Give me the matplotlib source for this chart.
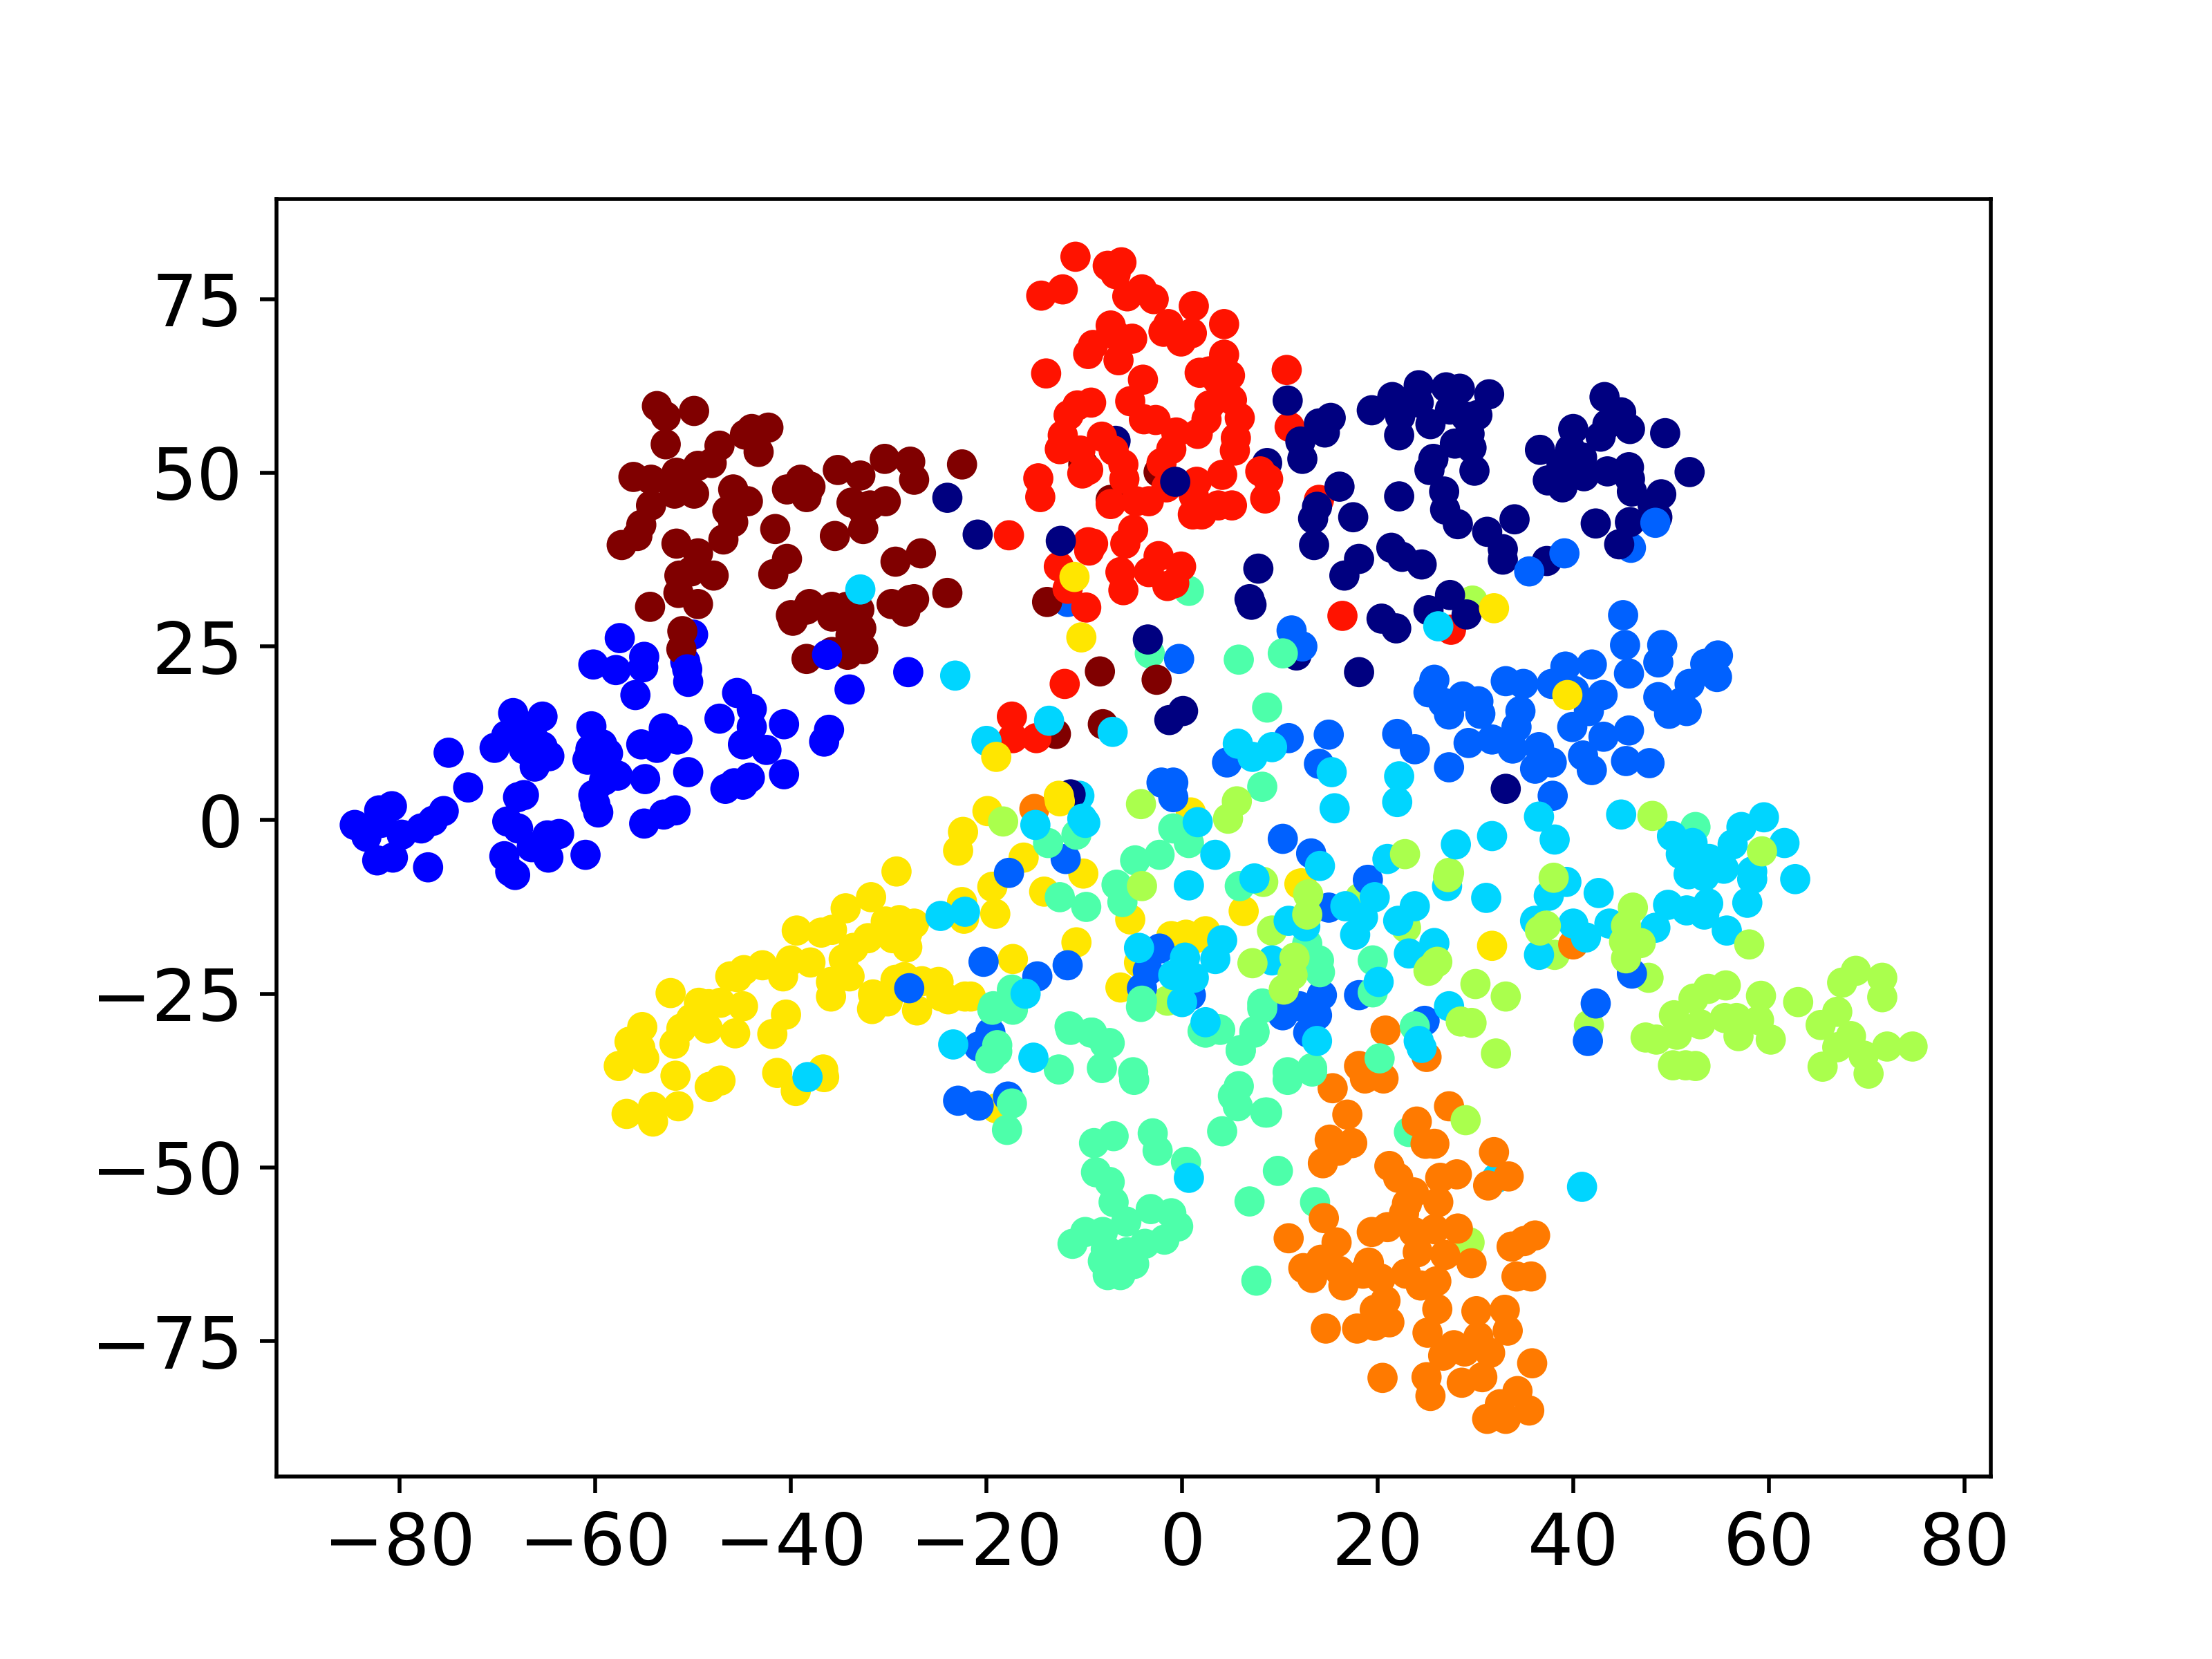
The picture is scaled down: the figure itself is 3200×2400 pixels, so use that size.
#!/usr/bin/env python3
import numpy as np
import matplotlib
matplotlib.use("Agg")
import matplotlib.pyplot as plt

# t-SNE embedding, one array of (x, y) per digit class
class_0 = [
    (-24.0, 46.4), (-20.9, 41.1), (-12.4, 40.2), (-6.8, 54.6), (8.7, 51.4), (-0.7, 48.7), (10.8, 60.4),
    (15.2, 57.9), (14.0, 57.1), (14.6, 55.8), (12.1, 54.5), (12.3, 52.0), (19.4, 59.0), (21.5, 60.9),
    (24.2, 62.6), (24.2, 60.1), (22.3, 58.1), (22.2, 55.4), (25.4, 57.0), (27.0, 62.3), (28.4, 62.1),
    (31.4, 61.3), (27.4, 59.1), (30.2, 58.3), (29.0, 58.1), (29.4, 55.6), (27.9, 54.2), (29.6, 53.6),
    (25.7, 52.0), (25.3, 50.4), (29.9, 50.3), (16.1, 48.0), (13.8, 45.1), (13.4, 43.4), (13.5, 39.6),
    (17.5, 43.6), (22.2, 46.6), (26.8, 47.3), (26.9, 44.7), (28.2, 42.6), (34.0, 43.3), (31.2, 41.5),
    (32.8, 39.0), (32.8, 37.5), (37.3, 37.3), (21.4, 39.2), (22.5, 37.9), (24.5, 36.8), (18.1, 37.6),
    (16.6, 35.2), (7.8, 36.2), (6.9, 31.8), (7.1, 31.0), (20.4, 29.0), (21.9, 27.6), (25.2, 30.2),
    (27.4, 32.4), (29.1, 29.6), (43.2, 60.9), (44.9, 58.7), (43.5, 57.0), (45.8, 56.3), (42.8, 55.2),
    (40.0, 56.3), (36.6, 53.3), (39.7, 53.4), (40.9, 52.2), (38.8, 51.4), (41.1, 49.5), (37.4, 48.9),
    (38.9, 47.9), (43.5, 50.2), (45.7, 50.8), (45.8, 49.1), (46.0, 47.3), (49.4, 55.7), (51.9, 50.1),
    (49.0, 46.9), (48.1, 45.5), (48.6, 43.6), (42.3, 42.7), (45.8, 42.9), (44.7, 39.7), (-3.5, 26.0),
    (11.7, 23.7), (18.1, 21.3), (0.1, 15.7), (-1.3, 14.4), (33.1, 4.5), (-11.4, 3.7),
]
class_1 = [
    (-84.6, -0.7), (-83.4, -2.4), (-82.3, -5.8), (-80.7, -5.4), (-77.1, -6.8), (-82.1, 1.4), (-80.8, 2.0),
    (-81.9, -0.4), (-79.8, -2.1), (-77.8, -1.2), (-76.6, -0.1), (-75.5, 1.3), (-73.0, 4.7), (-75.0, 9.7),
    (-70.3, 10.4), (-69.1, 12.2), (-68.4, 15.4), (-65.4, 14.9), (-66.5, 12.6), (-67.3, 10.2), (-66.0, 9.6),
    (-64.7, 9.2), (-66.2, 7.7), (-65.4, 10.6), (-60.4, 13.5), (-59.3, 10.9), (-60.5, 10.2), (-60.8, 8.7),
    (-58.7, 9.6), (-57.7, 6.4), (-59.1, 5.7), (-54.9, 5.9), (-55.3, 10.9), (-53.7, 10.4), (-53.0, 13.2),
    (-51.6, 11.6), (-50.5, 6.9), (-47.3, 14.6), (-45.5, 18.3), (-44.0, 16.0), (-44.0, 13.4), (-44.9, 10.9),
    (-42.5, 10.1), (-40.7, 13.8), (-36.1, 13.0), (-36.6, 11.3), (-40.7, 6.6), (-44.2, 6.1), (-45.8, 5.3),
    (-46.7, 4.5), (-44.9, 5.1), (-60.2, 3.6), (-59.7, 1.1), (-60.0, 2.3), (-55.0, -0.5), (-53.0, 0.8),
    (-51.8, 1.4), (-67.3, 3.6), (-67.9, 3.3), (-69.0, -0.2), (-67.9, -1.2), (-63.7, -2.0), (-64.9, -2.2),
    (-66.5, -3.9), (-64.8, -5.4), (-61.0, -5.0), (-69.3, -5.2), (-68.7, -7.4), (-68.2, -7.9), (-57.5, 26.2),
    (-55.0, 23.5), (-55.1, 22.0), (-57.9, 21.6), (-60.2, 22.4), (-55.9, 18.0), (-50.8, 22.8), (-50.6, 21.7),
    (-50.5, 19.9), (-50.0, 26.7), (-36.3, 23.8), (-28.0, 21.3), (-34.0, 18.8),
]
class_2 = [
    (-0.3, 23.2), (11.2, 27.3), (12.3, 25.0), (45.3, 25.2), (49.1, 25.2), (48.7, 22.7), (45.7, 21.1),
    (54.8, 23.7), (53.5, 22.5), (54.7, 20.6), (51.9, 19.6), (48.7, 17.7), (51.6, 15.7), (49.8, 15.3),
    (51.0, 16.9), (41.9, 22.4), (39.2, 22.1), (37.8, 19.6), (40.1, 18.6), (43.0, 18.0), (41.6, 15.7),
    (39.9, 13.4), (43.1, 12.0), (45.7, 12.9), (33.1, 20.0), (34.9, 19.6), (34.6, 15.7), (34.2, 13.4),
    (31.7, 11.6), (29.3, 11.1), (33.8, 10.3), (36.5, 10.5), (37.8, 8.3), (36.1, 7.4), (41.0, 9.3),
    (41.9, 7.2), (45.4, 8.5), (47.8, 8.2), (27.3, 7.6), (25.8, 20.2), (25.2, 18.4), (26.7, 16.9),
    (27.3, 15.2), (28.7, 17.8), (30.3, 17.1), (30.5, 15.3), (22.0, 12.4), (23.8, 10.2), (15.0, 12.3),
    (10.9, 11.8), (4.6, 8.3), (14.0, 8.1), (-2.1, 5.4), (-0.9, 5.4), (-0.9, 3.3), (37.9, 3.5),
    (10.3, -2.7), (13.2, -4.8), (-11.9, -5.6), (-17.7, -7.6), (19.0, -8.6), (15.0, -12.6), (46.0, -22.1),
    (42.3, -26.4), (41.5, -31.8), (-20.3, -20.4), (-11.7, -20.9), (-14.8, -22.5), (-2.3, -18.5), (-3.5, -21.7),
    (-4.1, -24.2), (0.9, -25.2), (18.1, -25.2), (14.3, -25.2), (12.0, -26.8), (10.3, -28.1), (13.8, -28.1),
    (12.9, -30.6), (24.8, -28.9), (-27.9, -24.2), (-19.6, -30.6), (-20.8, -32.6), (-11.7, 31.4), (48.4, 42.8),
    (45.9, 39.2), (39.1, 38.4), (35.5, 35.8), (45.1, 29.5), (-22.9, -40.4), (-20.8, -41.1), (-17.8, -39.8),
]
class_3 = [
    (-23.2, 20.8), (-20.0, 11.4), (-13.6, 14.3), (-7.1, 12.7), (26.2, 27.9), (5.7, 11.0), (7.2, 9.1),
    (9.2, 10.5), (15.3, 6.9), (22.2, 6.3), (22.0, 2.6), (15.6, 1.7), (36.5, 0.5), (38.1, -2.8),
    (31.7, -2.3), (28.0, -3.5), (44.9, 0.8), (-10.2, 0.2), (-9.9, -0.4), (-15.0, -0.7), (1.6, -0.3),
    (3.4, -5.0), (14.1, -6.6), (21.0, -5.6), (0.7, -9.4), (7.4, -8.4), (27.1, -9.5), (31.1, -11.2),
    (42.6, -10.5), (37.5, -10.9), (39.3, -8.9), (19.7, -11.1), (23.8, -12.4), (22.1, -14.5), (16.7, -12.4),
    (18.5, -14.0), (17.7, -16.5), (10.9, -14.5), (12.6, -15.3), (-24.7, -13.8), (-22.2, -13.2), (36.1, -14.5),
    (40.0, -14.9), (41.3, -16.9), (43.7, -14.9), (36.5, -19.4), (48.4, -15.5), (49.7, -12.2), (51.6, -13.0),
    (53.8, -12.0), (53.4, -13.6), (57.8, -11.9), (55.7, -15.9), (62.7, -8.5), (50.1, -2.3), (52.2, -3.3),
    (51.0, -4.9), (51.8, -7.8), (53.4, -8.1), (53.9, -5.6), (55.4, -7.0), (57.2, -1.0), (59.5, 0.4),
    (61.6, -3.3), (56.3, -3.5), (58.3, -8.5), (58.3, -7.4), (4.1, -17.3), (3.4, -20.0), (0.3, -19.8),
    (-0.9, -22.3), (1.2, -22.7), (-4.4, -18.4), (0.0, -26.2), (9.2, -20.2), (23.2, -19.2), (25.8, -17.7),
    (20.1, -23.3), (27.3, -26.8), (-16.0, -25.0), (2.4, -29.1), (13.8, -31.8), (24.2, -31.8), (24.5, -32.8),
    (-23.4, -32.3), (-15.2, -34.2), (0.7, -51.5), (40.9, -52.8), (32.2, -51.5), (-38.3, -37.0), (-32.9, 33.2),
    (-10.5, 3.5),
]
class_4 = [
    (-3.3, 24.0), (10.3, 24.0), (5.8, 23.1), (8.7, 16.2), (8.2, 4.8), (52.5, -1.0), (-0.9, -1.2),
    (0.7, -3.3), (-2.3, -5.0), (-4.8, -5.8), (-6.7, -9.3), (-6.1, -11.8), (-13.7, -3.3), (-10.8, -2.1),
    (-12.5, -11.1), (-9.8, -12.5), (5.9, -9.5), (12.8, -17.8), (14.0, -20.2), (14.1, -21.9), (12.3, -19.4),
    (19.5, -20.2), (19.5, -24.8), (8.2, -26.4), (-4.1, -26.0), (-17.4, -24.4), (-19.3, -26.8), (-17.3, -27.0),
    (-11.5, -29.7), (-9.3, -30.6), (-7.9, -32.2), (2.4, -30.6), (3.8, -30.1), (7.4, -30.6), (6.0, -33.2),
    (-18.9, -32.4), (-19.6, -34.3), (-12.6, -35.9), (-8.2, -35.7), (-5.0, -36.3), (13.3, -35.7), (20.2, -34.3),
    (10.8, -36.3), (23.8, -29.7), (-4.9, -37.4), (-17.9, -44.6), (-7.0, -45.5), (-9.0, -46.5), (-3.0, -45.1),
    (-2.5, -47.6), (0.4, -49.2), (4.1, -44.8), (5.7, -41.2), (5.2, -39.7), (5.8, -38.3), (8.7, -42.1),
    (8.5, -42.1), (10.8, -37.4), (13.3, -36.2), (9.8, -50.5), (6.9, -54.9), (13.6, -55.0), (7.6, -66.3),
    (23.2, -44.9), (-8.8, -50.7), (-7.4, -52.1), (-7.0, -55.0), (-5.7, -57.8), (-3.2, -56.0), (-1.1, -56.6),
    (-0.4, -58.5), (-1.8, -60.4), (-3.8, -61.0), (-5.6, -62.2), (-9.9, -59.3), (-11.2, -61.0), (-8.1, -59.3),
    (-7.8, -61.8), (-8.1, -63.5), (-7.4, -65.1), (-6.3, -65.5), (-4.9, -63.9), (-6.5, -63.0), (-7.6, -65.5),
    (-18.9, -33.3), (-17.4, -40.8), (-11.4, -30.2), (-9.2, -30.6), (-7.4, -32.1), (2.1, -30.4), (3.9, -30.2),
    (7.4, -30.4), (6.0, -33.1), (8.2, -27.1), (-4.2, -26.9), (-19.4, -27.3), (-17.3, -27.3), (0.7, 33.0),
]
class_5 = [
    (48.1, 0.6), (59.3, -4.5), (22.8, -4.9), (27.2, -8.2), (38.0, -8.3), (37.2, -15.2), (36.6, -15.9),
    (38.1, -19.4), (46.1, -12.6), (45.4, -15.2), (45.2, -17.5), (46.9, -17.7), (45.4, -19.9), (47.7, -22.7),
    (58.0, -17.9), (26.0, -20.5), (25.3, -21.5), (30.0, -23.6), (33.1, -25.4), (28.5, -29.0), (29.6, -29.2),
    (32.1, -33.6), (41.6, -29.5), (29.0, -43.2), (22.8, -15.2), (68.9, -21.7), (67.5, -23.4), (71.6, -22.7),
    (71.6, -25.5), (63.0, -26.2), (59.2, -25.3), (55.6, -23.8), (53.8, -24.3), (52.3, -25.7), (50.3, -28.1),
    (53.0, -29.4), (55.5, -28.5), (56.7, -28.5), (59.0, -28.8), (56.9, -31.1), (60.2, -31.6), (47.4, -31.3),
    (48.5, -31.6), (50.6, -30.9), (50.2, -35.3), (51.5, -35.3), (52.5, -35.4), (65.3, -29.5), (67.0, -27.6),
    (68.4, -31.1), (67.0, -32.7), (69.7, -33.9), (65.5, -35.5), (70.2, -36.5), (72.1, -32.6), (74.7, -32.6),
    (-4.2, 2.3), (5.6, 2.7), (4.7, 0.2), (-18.3, -0.2), (-4.1, -9.5), (8.3, -8.9), (12.9, -10.7),
    (12.8, -13.6), (9.2, -15.9), (22.9, -15.5), (18.2, -11.2), (7.2, -20.6), (11.5, -19.8), (11.3, -22.3),
    (10.4, -24.4), (26.1, -20.4), (25.2, -21.7), (-1.5, -26.0), (29.4, -60.8), (29.7, 31.6), (27.3, -7.6),
]
class_6 = [
    (-19.9, 1.3), (-22.4, -1.7), (-22.9, -4.4), (-29.2, -7.4), (-31.8, -11.1), (-34.4, -12.7), (-39.4, -15.9),
    (-36.9, -16.2), (-35.8, -15.8), (-30.3, -14.6), (-28.9, -14.4), (-27.4, -14.9), (-28.1, -16.3), (-32.1, -17.0),
    (-33.6, -18.4), (-34.6, -20.0), (-28.1, -18.3), (-29.6, -17.0), (-38.0, -20.5), (-40.0, -20.2), (-40.8, -22.5),
    (-42.9, -20.9), (-44.8, -21.6), (-46.2, -22.5), (-45.5, -22.6), (-52.3, -24.9), (-34.0, -22.5), (-35.9, -23.3),
    (-35.9, -25.4), (-31.6, -25.1), (-31.7, -27.2), (-30.1, -26.1), (-28.4, -22.6), (-29.3, -23.0), (-26.6, -23.2),
    (-24.9, -23.3), (-24.6, -25.4), (-23.9, -25.8), (-22.2, -25.4), (-21.6, -25.4), (-27.1, -27.4), (-44.9, -26.8),
    (-47.2, -26.3), (-48.4, -26.5), (-49.4, -26.3), (-50.2, -28.6), (-51.2, -30.0), (-48.5, -30.0), (-40.5, -28.0),
    (-41.9, -30.8), (-45.7, -30.7), (-51.9, -32.2), (-55.2, -29.8), (-56.5, -31.9), (-55.4, -32.8), (-55.0, -34.3),
    (-57.6, -35.4), (-51.8, -36.8), (-47.2, -37.5), (-48.3, -38.4), (-41.4, -36.4), (-36.7, -35.9), (-36.6, -37.0),
    (-39.5, -39.0), (-56.8, -42.3), (-54.1, -41.3), (-54.1, -43.4), (-51.5, -41.2), (-22.3, -14.2), (-22.5, -11.8),
    (-19.1, -13.5), (-19.4, -9.6), (-14.1, -10.3), (-10.1, -7.7), (-16.2, -5.4), (-12.5, 2.7), (-5.3, -14.3),
    (-10.8, -17.6), (-17.3, -20.0), (-6.3, -24.1), (-4.4, -20.5), (6.3, -13.1), (12.0, -9.2), (0.9, 1.1),
    (-1.1, -16.7), (0.4, -16.5), (2.4, -16.0), (1.4, -17.0), (-19.0, -41.5), (31.7, -18.1), (12.2, -9.1),
    (-11.0, 35.0), (-10.3, 26.3), (31.9, 30.5), (-19.0, 9.1), (-12.6, 3.5), (39.4, 18.0),
]
class_7 = [
    (20.8, -30.3), (25.0, -34.1), (18.1, -35.4), (18.7, -37.2), (20.6, -37.2), (15.4, -38.6), (16.9, -42.4),
    (27.3, -41.2), (24.0, -43.4), (15.1, -46.0), (17.4, -46.5), (16.0, -47.6), (14.4, -49.4), (24.9, -46.6),
    (25.8, -46.6), (31.9, -47.8), (21.2, -49.8), (22.1, -51.5), (26.4, -51.5), (28.1, -51.0), (31.3, -52.6),
    (33.4, -51.3), (23.7, -53.6), (26.2, -55.0), (23.0, -55.2), (14.5, -57.3), (22.7, -56.6), (21.0, -58.6),
    (19.4, -59.3), (28.2, -58.8), (23.7, -59.3), (25.8, -58.9), (10.9, -60.2), (15.8, -60.8), (24.1, -62.2),
    (26.9, -62.6), (29.6, -63.8), (36.1, -59.8), (35.0, -60.6), (33.7, -61.4), (14.2, -63.3), (12.4, -64.5),
    (13.3, -65.9), (16.1, -64.9), (16.5, -67.0), (19.1, -63.7), (18.5, -65.3), (20.3, -66.0), (22.9, -65.3),
    (24.4, -67.0), (26.0, -66.4), (34.2, -65.7), (35.7, -65.7), (26.1, -70.4), (20.8, -69.2), (19.7, -70.5),
    (21.2, -72.3), (19.7, -72.8), (17.9, -73.2), (14.7, -73.2), (25.1, -73.8), (30.1, -70.7), (33.0, -70.5),
    (33.3, -73.5), (30.3, -74.4), (27.8, -75.6), (28.9, -76.5), (31.5, -76.7), (26.7, -77.1), (35.8, -78.2),
    (20.5, -80.3), (25.0, -80.2), (25.4, -82.9), (28.6, -81.0), (30.7, -80.2), (34.3, -82.2), (32.5, -84.1),
    (35.5, -85.0), (31.2, -86.2), (33.1, -86.2), (-15.1, 1.6), (40.0, -17.9),
]
class_8 = [
    (-10.9, 81.1), (-7.6, 79.8), (-6.2, 80.3), (-6.8, 78.6), (-14.4, 75.5), (-12.2, 76.4), (-5.6, 75.4),
    (-4.1, 76.4), (-2.9, 75.0), (1.2, 74.0), (4.3, 71.4), (-7.3, 71.2), (-5.1, 69.3), (-6.5, 69.5),
    (-1.9, 70.3), (-1.4, 71.4), (-0.1, 68.9), (1.0, 70.1), (-9.1, 68.4), (-9.6, 67.1), (-6.5, 66.2),
    (4.3, 67.0), (-13.9, 64.3), (-4.0, 63.4), (1.8, 64.4), (2.8, 64.6), (3.6, 63.4), (4.9, 64.0),
    (10.7, 64.8), (-5.3, 60.3), (-9.3, 60.1), (-10.7, 59.7), (-11.6, 58.3), (-3.9, 57.7), (-2.7, 57.6),
    (2.8, 59.7), (5.1, 60.5), (5.9, 57.9), (2.5, 57.7), (11.0, 56.6), (-12.2, 55.4), (-12.5, 53.4),
    (-10.4, 53.2), (-8.2, 55.2), (-7.0, 53.2), (-6.0, 51.2), (-5.9, 49.1), (-0.6, 55.8), (-1.1, 53.4),
    (-2.1, 51.4), (1.6, 55.6), (5.5, 55.0), (5.4, 53.2), (8.0, 50.2), (8.8, 49.1), (8.5, 46.3),
    (4.1, 49.7), (1.5, 48.7), (-10.2, 49.9), (-9.6, 50.4), (-14.7, 49.2), (-14.5, 46.5), (-7.3, 45.5),
    (-4.7, 45.9), (-3.4, 45.9), (1.1, 44.0), (2.0, 44.0), (3.7, 45.3), (5.1, 45.3), (1.2, 46.7),
    (-1.6, 47.9), (-5.0, 41.8), (-5.8, 39.8), (-17.7, 41.0), (-9.6, 40.0), (-9.1, 39.8), (-9.5, 38.8),
    (-12.6, 36.5), (-11.7, 33.3), (-9.8, 30.6), (-6.3, 35.7), (-6.0, 33.1), (-2.4, 38.0), (-3.4, 35.7),
    (-0.1, 36.5), (-0.8, 34.1), (-1.5, 33.7), (16.4, 29.4), (27.5, 27.4), (14.0, 46.1),
    (-17.4, 14.9), (-17.3, 11.8), (-14.9, 11.8), (-12.0, 19.6),
]
class_9 = [
    (-53.7, 59.6), (-52.8, 58.1), (-49.9, 58.9), (-52.8, 54.1), (-56.1, 49.4), (-54.3, 49.0), (-51.7, 50.0),
    (-49.5, 51.0), (-48.1, 51.4), (-47.3, 53.9), (-44.0, 56.3), (-42.3, 56.5), (-44.7, 55.5), (-43.3, 53.0),
    (-51.4, 48.0), (-51.9, 47.0), (-49.9, 47.0), (-45.9, 47.6), (-44.4, 45.9), (-46.5, 44.5), (-45.9, 42.9),
    (-54.3, 45.3), (-55.3, 42.5), (-55.7, 40.9), (-57.3, 39.6), (-51.7, 39.8), (-49.5, 38.4), (-46.9, 40.4),
    (-47.9, 35.2), (-50.2, 35.8), (-51.4, 35.2), (-51.5, 32.7), (-49.5, 31.1), (-54.4, 30.7), (-51.1, 27.2),
    (-51.2, 24.6), (-40.4, 47.6), (-39.0, 49.0), (-38.0, 48.0), (-38.4, 46.5), (-35.2, 50.4), (-32.9, 49.6),
    (-30.4, 52.0), (-27.8, 51.6), (-27.4, 49.0), (-30.3, 45.9), (-31.9, 45.3), (-33.8, 45.7), (-32.6, 44.5),
    (-35.5, 40.9), (-32.6, 41.9), (-29.3, 37.2), (-26.7, 38.4), (-41.8, 35.4), (-40.4, 37.6), (-41.6, 41.9),
    (-22.5, 51.2), (-24.0, 32.7), (-27.8, 31.7), (-29.7, 31.1), (-34.3, 30.7), (-35.8, 30.7), (-38.4, 30.3),
    (-39.8, 28.7), (-38.1, 31.1), (-35.8, 29.3), (-32.8, 27.6), (-33.9, 26.6), (-32.6, 24.6), (-38.4, 23.2),
    (-35.8, 24.2), (-34.2, 23.8), (-40.0, 29.5), (-33.0, 30.3), (-28.3, 30.0), (-27.4, 31.8), (-8.4, 21.4),
    (-2.6, 20.2), (-8.1, 13.8), (-12.9, 12.4), (-10.1, 51.2), (-2.4, 50.1), (-7.3, 46.1), (-13.8, 31.4),
]

classes = [class_0, class_1, class_2, class_3, class_4, class_5, class_6, class_7, class_8, class_9]
# back to front, so the strays end up over the clusters like in the picture
draw_order = [9, 8, 7, 0, 6, 1, 2, 4, 3, 5]

# points that sit against that order in the picture: (class, x, y)
behind = [
    (0, -6.8, 54.6), (0, 8.7, 51.4), (1, -50.0, 26.7), (1, -50.8, 22.8), (2, -11.7, 31.4), (2, 45.9, 39.2),
    (3, 32.2, -51.5), (3, -10.5, 3.5), (4, -3.3, 24.0), (4, 0.7, 33.0), (4, 13.6, -55.0), (4, 23.2, -44.9),
    (5, 29.4, -60.8), (5, 29.7, 31.6), (5, 8.3, -8.9), (5, 27.3, -7.6), (5, -1.5, -26.0), (5, 22.9, -15.5),
    (5, 38.1, -19.4), (5, 47.7, -22.7), (5, 41.6, -29.5), (5, 22.8, -15.2), (5, 18.2, -11.2), (5, 9.2, -15.9),
]
in_front = [
    (6, 39.4, 18.0), (6, -12.6, 3.5), (6, -19.0, 9.1), (6, -11.0, 35.0), (6, 31.9, 30.5),
]


def split_class(i):
    rows = [p for p in classes[i]
            if (i, *p) not in behind and (i, *p) not in in_front]
    return np.array(rows)


middle = [split_class(i) for i in draw_order]
xy = np.concatenate([np.array(behind)[:, 1:], *middle, np.array(in_front)[:, 1:]])
labels = np.concatenate([
    np.array(behind)[:, 0],
    *[np.full(len(m), i) for m, i in zip(middle, draw_order)],
    np.array(in_front)[:, 0],
])

fig, ax = plt.subplots(figsize=(6.4, 4.8), dpi=500)
ax.scatter(xy[:, 0], xy[:, 1], c=labels, cmap="jet", vmin=0, vmax=9, s=28)
ax.set_xlim(-92.6, 82.7)
ax.set_ylim(-94.5, 89.4)
ax.set_xticks(np.arange(-80, 81, 20))
ax.tick_params(labelsize=15)

fig.savefig("out.png")
